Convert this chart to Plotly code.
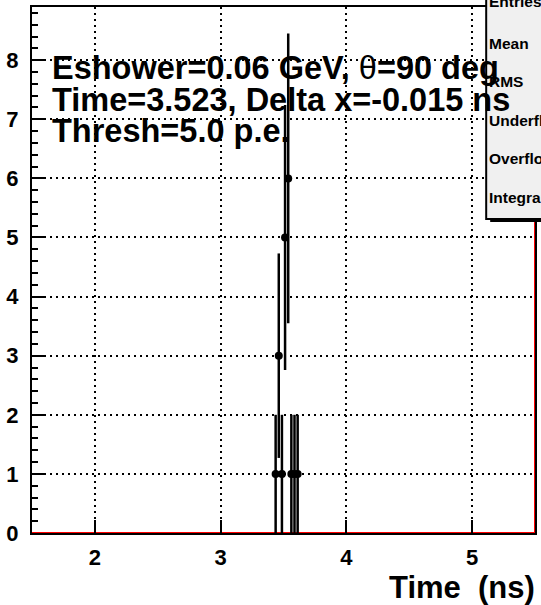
import plotly.graph_objects as go

# ---- data ----
BIN_CENTERS = [3.4375, 3.4625, 3.4875, 3.5125, 3.5375, 3.5625, 3.5875, 3.6125]
COUNTS = [1, 3, 1, 5, 6, 1, 1, 1]
ERRORS = [1.0, 1.73, 1.0, 2.24, 2.45, 1.0, 1.0, 1.0]
X_RANGE = [1.5, 5.5]
Y_RANGE = [0, 8.9]
X_TICKS = [2, 3, 4, 5]
Y_TICKS = [0, 1, 2, 3, 4, 5, 6, 7, 8]
TEXT_LINES = [
    "<b>Eshower=0.06 GeV, </b>\u03b8<b>=90 deg</b>",
    "<b>Time=3.523, Delta x=-0.015 ns</b>",
    "<b>Thresh=5.0 p.e.</b>",
]
STATS_LABELS = ["Entries", "Mean", "RMS", "Underflow", "Overflow", "Integral"]
X_TITLE = "Time  (ns)"

W, H = 541, 605
ML, MR, MT, MB = 32, 4, 7, 72
PW, PH = W - ML - MR, H - MT - MB

FONT = "Liberation Sans, Arial, Helvetica, sans-serif"


def px_x(p):
    return (p - ML) / PW


def px_y(p):
    return (H - MB - p) / PH


fig = go.Figure()

# red zero-level histogram outline
fig.add_trace(go.Scatter(
    x=X_RANGE, y=[Y_RANGE[0], Y_RANGE[0]], mode="lines",
    line=dict(color="#ff0000", width=2), cliponaxis=False,
    hoverinfo="skip", showlegend=False))
fig.add_trace(go.Scatter(
    x=[X_RANGE[1], X_RANGE[1]], y=Y_RANGE, mode="lines",
    line=dict(color="#ff0000", width=2), cliponaxis=False,
    hoverinfo="skip", showlegend=False))

# data points with error bars
fig.add_trace(go.Scatter(
    x=BIN_CENTERS, y=COUNTS, mode="markers",
    marker=dict(color="black", size=8, symbol="circle"),
    error_y=dict(type="data", array=ERRORS, visible=True,
                 color="black", thickness=2.5, width=0),
    showlegend=False))

axis_common = dict(
    showline=True, linecolor="black", linewidth=2, mirror=True,
    ticks="inside", tickcolor="black", tickwidth=2,
    showgrid=True, gridcolor="black", gridwidth=1.6, griddash="2px,4px",
    zeroline=False,
    tickfont=dict(family=FONT, size=22, color="black", weight="bold"),
)

fig.update_xaxes(
    range=X_RANGE, tickvals=X_TICKS, ticktext=[str(t) for t in X_TICKS],
    ticklen=13, ticklabelstandoff=4, **axis_common)
fig.update_yaxes(
    range=Y_RANGE, tickvals=Y_TICKS, ticktext=[str(t) for t in Y_TICKS],
    ticklen=12, ticklabelstandoff=7,
    minor=dict(dtick=0.2, ticklen=6, ticks="inside", tickcolor="black",
               tickwidth=2, showgrid=False),
    **axis_common)

annotations = []
# info text lines
line_centers = [68, 100, 131]
for txt, yc in zip(TEXT_LINES, line_centers):
    annotations.append(dict(
        text=txt, xref="paper", yref="paper", x=px_x(50), y=px_y(yc),
        xanchor="left", yanchor="middle", showarrow=False,
        font=dict(family=FONT, size=32.5, color="black")))

# axis title
annotations.append(dict(
    text=X_TITLE, xref="paper", yref="paper", x=px_x(539), y=px_y(587),
    xanchor="right", yanchor="middle", showarrow=False,
    font=dict(family=FONT, size=31, color="black", weight="bold")))

# stats box labels
stats_centers = [1, 43, 81.5, 120, 158.5, 197]
for lab, yc in zip(STATS_LABELS, stats_centers):
    annotations.append(dict(
        text=lab, xref="paper", yref="paper", x=px_x(489), y=px_y(yc),
        xanchor="left", yanchor="middle", showarrow=False,
        font=dict(family=FONT, size=15.5, color="black", weight="bold")))

shapes = [
    # shadow
    dict(type="rect", xref="paper", yref="paper",
         x0=px_x(492), x1=px_x(560), y0=px_y(222), y1=px_y(-20),
         fillcolor="black", line=dict(width=0), layer="above"),
    # stats box
    dict(type="rect", xref="paper", yref="paper",
         x0=px_x(488), x1=px_x(560), y0=px_y(219), y1=px_y(-20),
         fillcolor="#f0f0f0", line=dict(color="black", width=2), layer="above"),
]

fig.update_layout(
    width=W, height=H,
    margin=dict(l=ML, r=MR, t=MT, b=MB, pad=0),
    plot_bgcolor="white", paper_bgcolor="white",
    annotations=annotations, shapes=shapes,
    showlegend=False,
)

fig.write_html(
    "out.html",
    config={"displayModeBar": False},
    post_script="document.body.style.margin='0';document.body.style.overflow='hidden';",
)
